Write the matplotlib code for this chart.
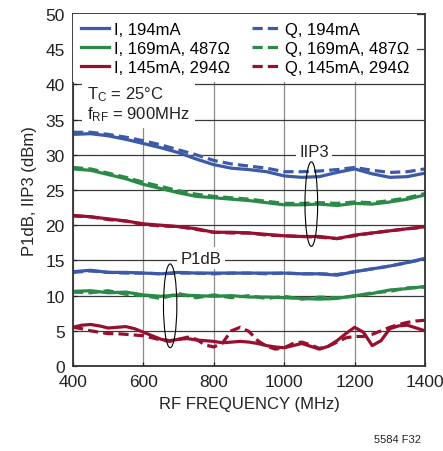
import matplotlib
matplotlib.use('Agg')
import matplotlib.pyplot as plt
from matplotlib.patches import Ellipse
import numpy as np

plt.rcParams['font.family'] = ['Liberation Sans', 'DejaVu Sans']
plt.rcParams['mathtext.fontset'] = 'custom'
plt.rcParams['mathtext.rm'] = 'Liberation Sans'
plt.rcParams['mathtext.it'] = 'Liberation Sans'

# frequency grids (MHz)
freq = np.arange(400, 1401, 50)
freq_fine = np.arange(400, 1401, 25)

# IIP3 (dBm)
iip3_i_194 = [32.9, 33.0, 32.7, 32.2, 31.6, 31.0, 30.3, 29.4, 28.6, 28.1, 27.9,
              27.6, 27.0, 26.8, 26.9, 27.5, 28.0, 27.3, 26.8, 26.9, 27.4]
iip3_q_194 = [33.2, 33.2, 32.9, 32.5, 32.0, 31.4, 30.7, 30.0, 29.2, 28.7, 28.4,
              28.1, 27.6, 27.6, 27.7, 27.9, 28.2, 27.8, 27.5, 27.6, 28.0]
iip3_i_169 = [28.0, 27.8, 27.2, 26.6, 25.8, 25.2, 24.6, 24.1, 23.9, 23.7, 23.5,
              23.2, 22.9, 22.9, 23.0, 22.8, 23.1, 23.0, 23.3, 23.7, 24.3]
iip3_q_169 = [28.2, 28.0, 27.4, 26.8, 26.1, 25.5, 24.9, 24.4, 24.1, 23.9, 23.7,
              23.4, 23.1, 23.1, 23.2, 23.1, 23.3, 23.2, 23.5, 23.9, 24.5]
iip3_i_145 = [21.4, 21.2, 20.9, 20.6, 20.2, 20.0, 19.8, 19.5, 19.0, 19.0, 18.9,
              18.7, 18.5, 18.4, 18.4, 18.1, 18.6, 18.9, 19.2, 19.5, 19.8]
iip3_q_145 = [21.3, 21.2, 20.8, 20.6, 20.1, 19.9, 19.8, 19.4, 19.0, 18.9, 18.9,
              18.6, 18.5, 18.4, 18.3, 18.1, 18.5, 18.9, 19.2, 19.5, 19.7]

# P1dB (dBm)
p1db_i_194 = [13.4, 13.6, 13.3, 13.3, 13.2, 13.1, 13.3, 13.2, 13.2, 13.2, 13.2,
              13.2, 13.2, 13.1, 13.1, 12.9, 13.4, 13.8, 14.2, 14.7, 15.3]
p1db_q_194 = [13.3, 13.5, 13.3, 13.2, 13.2, 13.1, 13.2, 13.2, 13.1, 13.2, 13.2,
              13.1, 13.2, 13.1, 13.1, 13.0, 13.4, 13.8, 14.2, 14.7, 15.2]
p1db_i_169 = [10.6, 10.7, 10.4, 10.5, 10.1, 9.9, 10.1, 10.0, 9.9, 10.0, 9.8,
              9.8, 9.7, 9.6, 9.5, 9.6, 10.0, 10.3, 10.8, 11.0, 11.3]
p1db_q_169 = [10.5, 10.4, 10.7, 10.2, 10.0, 9.6, 10.3, 9.7, 10.1, 9.7, 10.0,
              9.6, 9.9, 9.5, 9.8, 9.7, 9.9, 10.4, 10.6, 11.1, 11.2]
p1db_i_145 = [5.5, 5.8, 5.9, 5.7, 5.4, 5.5, 5.6, 5.3, 4.8, 4.3, 3.8, 3.6, 3.8, 3.9,
              3.7, 3.6, 3.5, 3.3, 3.4, 3.5, 3.4, 3.2, 2.9, 2.7, 2.6, 2.9, 3.2, 2.8,
              2.4, 2.8, 3.6, 4.6, 5.5, 4.8, 2.9, 3.6, 5.3, 5.7, 5.8, 5.4, 5.0]
p1db_q_145 = [5.5, 5.3, 5.0, 4.8, 4.6, 4.6, 4.5, 4.4, 4.3, 4.0, 3.7, 3.5, 3.8, 4.1,
              3.8, 3.0, 2.7, 3.3, 5.0, 5.5, 4.9, 3.6, 2.8, 2.4, 2.6, 3.2, 3.4, 3.0,
              2.5, 2.8, 3.4, 4.0, 4.2, 4.2, 4.5, 5.0, 5.5, 5.9, 6.2, 6.4, 6.5]

blue = '#3d5aa9'
green = '#2b8a48'
red = '#98102f'
fs = 12

fig = plt.figure(figsize=(4.43, 4.52), dpi=100)
ax = fig.add_axes([0.1648, 0.188, 0.7946, 0.7788])

lw = 2.3
dash = (3.2, 1.6)
h1, = ax.plot(freq, iip3_i_194, color=blue, lw=lw, label='I, 194mA')
h4, = ax.plot(freq, iip3_q_194, color=blue, lw=lw, dashes=dash, label='Q, 194mA')
h2, = ax.plot(freq, iip3_i_169, color=green, lw=lw, label='I, 169mA, 487Ω')
h5, = ax.plot(freq, iip3_q_169, color=green, lw=lw, dashes=dash, label='Q, 169mA, 487Ω')
h3, = ax.plot(freq, iip3_i_145, color=red, lw=lw, label='I, 145mA, 294Ω')
h6, = ax.plot(freq, iip3_q_145, color=red, lw=lw, dashes=dash, label='Q, 145mA, 294Ω')

ax.plot(freq, p1db_i_194, color=blue, lw=lw)
ax.plot(freq, p1db_q_194, color=blue, lw=lw, dashes=dash)
ax.plot(freq, p1db_i_169, color=green, lw=lw)
ax.plot(freq, p1db_q_169, color=green, lw=lw, dashes=dash)
ax.plot(freq_fine, p1db_i_145, color=red, lw=lw)
ax.plot(freq_fine, p1db_q_145, color=red, lw=lw, dashes=dash)

ax.set_xlim(400, 1400)
ax.set_ylim(0, 50)
ax.set_xticks(np.arange(400, 1401, 200))
ax.set_yticks(np.arange(0, 51, 5))
ax.yaxis.grid(True, color='#3a3a3a', lw=0.9)
ax.xaxis.grid(True, color='#8c8c8c', lw=0.9)
ax.set_axisbelow(True)
ax.tick_params(direction='in', length=3, width=0.9, labelsize=fs + 0.5, pad=6,
               colors='#222222')
for s in ax.spines.values():
    s.set_color('#333333')
    s.set_linewidth(1.3)

ax.set_xlabel('RF FREQUENCY (MHz)', fontsize=fs, color='#222222', labelpad=5)
ax.set_ylabel('P1dB, IIP3 (dBm)', fontsize=fs, color='#222222', labelpad=6)

leg = ax.legend(handles=[h1, h2, h3, h4, h5, h6], ncol=2, loc='upper left',
                bbox_to_anchor=(0, 1), borderaxespad=0, frameon=True,
                fancybox=False, facecolor='white', edgecolor='none',
                framealpha=1, fontsize=fs, handlelength=1.7,
                handletextpad=0.3, labelspacing=0.25, columnspacing=1.3,
                borderpad=0.45)
leg.get_frame().set_linewidth(0)

ax.text(0.04, 0.80, 'T$_\\mathregular{C}$ = 25°C\nf$_\\mathregular{RF}$ = 900MHz',
        transform=ax.transAxes, fontsize=fs, color='#222222', va='top',
        ha='left', linespacing=1.1,
        bbox=dict(boxstyle='square,pad=0.3', facecolor='white',
                  edgecolor='none'))

# group annotations
ax.text(1085, 30.5, 'IIP3', fontsize=fs, color='#222222', ha='center',
        va='center', bbox=dict(boxstyle='square,pad=0.2', facecolor='white',
                               edgecolor='none'))
ax.add_patch(Ellipse((1077, 23.0), 36, 12, fill=False, edgecolor='black', lw=0.8,
                     zorder=5))
ax.text(763, 15.3, 'P1dB', fontsize=fs, color='#222222', ha='center',
        va='center', bbox=dict(boxstyle='square,pad=0.2', facecolor='white',
                               edgecolor='none'))
ax.add_patch(Ellipse((676, 8.55), 38, 11.9, fill=False, edgecolor='black', lw=0.8,
                     zorder=5))

fig.text(0.898, 0.02, '5584 F32', fontsize=8, color='#222222', ha='center')

fig.savefig('out.png', dpi=100)
